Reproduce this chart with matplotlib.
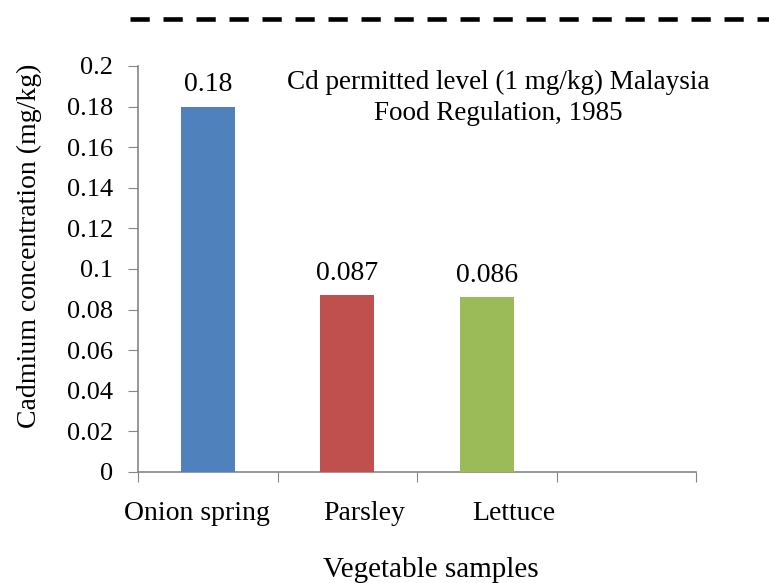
import numpy as np
import matplotlib
matplotlib.use('Agg')
import matplotlib.pyplot as plt

# cadmium in vegetable samples (mg/kg)
samples = ['Onion spring', 'Parsley', 'Lettuce']
cd_conc = [0.18, 0.087, 0.086]
val_labels = ['0.18', '0.087', '0.086']
colors = ['#4F81BD', '#C0504D', '#9BBB59']
n_slots = 4
yticks = np.arange(0, 0.2001, 0.02)
ytick_labels = ['0', '0.02', '0.04', '0.06', '0.08', '0.1', '0.12', '0.14', '0.16', '0.18', '0.2']
label_shift = [-0.08, 0.12, 0.19]   # category labels sit a bit off the bar centres

plt.rcParams['font.family'] = ['Liberation Serif', 'DejaVu Serif']
axis_grey = '#868686'

fig = plt.figure(figsize=(7.69, 5.83), dpi=100)
ax = fig.add_axes([0.1795, 0.1904, 0.7256, 0.6964])

x = np.arange(len(samples))
ax.bar(x, cd_conc, width=0.39, color=colors, zorder=3)
for xi, v, lab in zip(x, cd_conc, val_labels):
    ax.text(xi, v + 0.0045, lab, ha='center', va='bottom', fontsize=20)

ax.set_xlim(-0.5, n_slots - 0.5)
ax.set_ylim(0, 0.2)
ax.set_yticks(yticks)
ax.set_yticklabels(ytick_labels, fontsize=19)

# ticks at the slot borders, labels under the bars
ax.set_xticks(np.arange(n_slots + 1) - 0.5)
ax.set_xticklabels([])
ax.set_xticks(x + np.array(label_shift), minor=True)
ax.set_xticklabels(samples, minor=True, fontsize=20)
ax.tick_params(axis='x', which='minor', length=0, pad=21)
ax.tick_params(axis='x', which='major', length=7, color=axis_grey, direction='out')
ax.tick_params(axis='y', length=7, color=axis_grey, direction='out', pad=11)

for s in ['top', 'right']:
    ax.spines[s].set_visible(False)
for s in ['left', 'bottom']:
    ax.spines[s].set_color(axis_grey)
    ax.spines[s].set_linewidth(1.2)

ax.set_ylabel('Cadmium concentration (mg/kg)', fontsize=20)
ax.yaxis.set_label_coords(-0.172, 0.557)
ax.set_xlabel('Vegetable samples', fontsize=21)
ax.xaxis.set_label_coords(0.525, -0.21)

ax.text(0.645, 0.99, 'Cd permitted level (1 mg/kg) Malaysia\nFood Regulation, 1985',
        transform=ax.transAxes, ha='center', va='top', fontsize=19.5, linespacing=1.3)

# permitted level (1 mg/kg) is off scale, drawn above the plot
ax.plot([-0.0143, 1.2], [1.116, 1.116], transform=ax.transAxes, clip_on=False,
        color='black', linewidth=3.3, dashes=(4.2, 3.0), solid_capstyle='butt')

fig.savefig('out.png', dpi=100)
